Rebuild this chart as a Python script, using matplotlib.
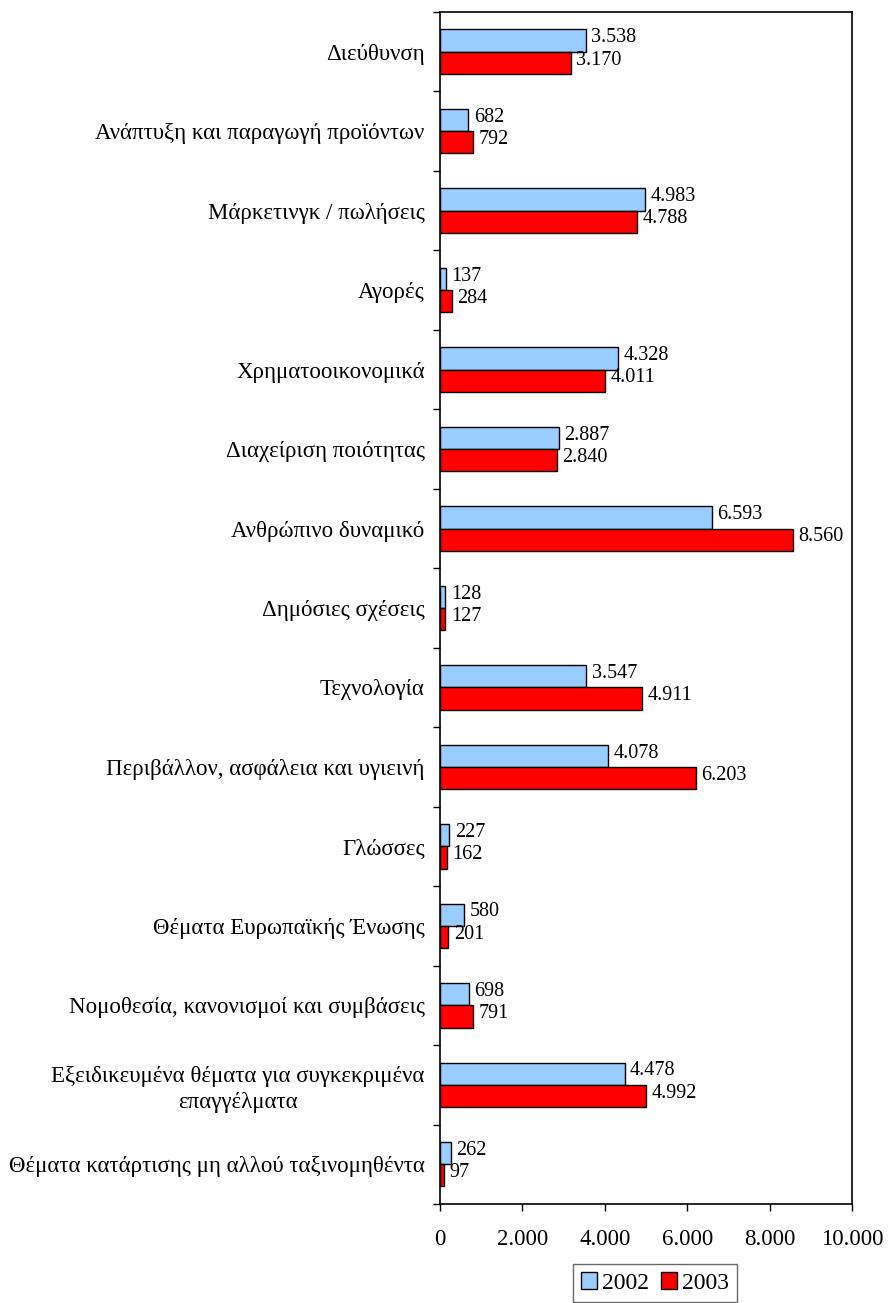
import matplotlib

matplotlib.use("Agg")
import matplotlib.pyplot as plt
from matplotlib.ticker import FuncFormatter, FixedLocator

plt.rcParams["font.family"] = ["Liberation Serif", "DejaVu Serif"]

categories = [
    "Διεύθυνση",
    "Ανάπτυξη και παραγωγή προϊόντων",
    "Μάρκετινγκ / πωλήσεις",
    "Αγορές",
    "Χρηματοοικονομικά",
    "Διαχείριση ποιότητας",
    "Ανθρώπινο δυναμικό",
    "Δημόσιες σχέσεις",
    "Τεχνολογία",
    "Περιβάλλον, ασφάλεια και υγιεινή",
    "Γλώσσες",
    "Θέματα Ευρωπαϊκής Ένωσης",
    "Νομοθεσία, κανονισμοί και συμβάσεις",
    "Εξειδικευμένα θέματα για συγκεκριμένα\nεπαγγέλματα",
    "Θέματα κατάρτισης μη αλλού ταξινομηθέντα",
]
values_2002 = [3538, 682, 4983, 137, 4328, 2887, 6593, 128, 3547, 4078, 227, 580, 698, 4478, 262]
values_2003 = [3170, 792, 4788, 284, 4011, 2840, 8560, 127, 4911, 6203, 162, 201, 791, 4992, 97]
series_names = ["2002", "2003"]
colors = ["#99CCFF", "#FF0000"]


def fmt(v):
    return f"{int(v):,}".replace(",", ".")


fig = plt.figure(figsize=(8.88, 13.03), dpi=100)
ax = fig.add_axes([0.4955, 0.076, 0.464, 0.9148])

pos = list(range(len(categories)))
bar_h = 0.28
offsets = [-0.14, 0.14]
for vals, off, col, name in zip([values_2002, values_2003], offsets, colors, series_names):
    ypos = [p + off for p in pos]
    ax.barh(ypos, vals, height=bar_h, color=col, edgecolor="black", linewidth=1.0, label=name)
    for y, v in zip(ypos, vals):
        ax.annotate(fmt(v), (v, y), xytext=(4, 2), textcoords="offset points",
                    ha="left", va="center", fontsize=14.5)

ax.set_xlim(0, 10000)
ax.set_ylim(len(categories) - 0.5, -0.5)
ax.set_xticks(range(0, 10001, 2000))
ax.xaxis.set_major_formatter(FuncFormatter(lambda v, p: fmt(v)))
ax.tick_params(axis="x", labelsize=16.5, length=5, width=1, pad=13, direction="out")

ax.set_yticks(pos)
ax.set_yticklabels(categories, fontsize=16.5, multialignment="center", linespacing=1.3)
ax.tick_params(axis="y", which="major", length=0, pad=11)
ax.yaxis.set_minor_locator(FixedLocator([p - 0.5 for p in pos] + [len(categories) - 0.5]))
ax.tick_params(axis="y", which="minor", length=5, width=1, direction="out")

for s in ax.spines.values():
    s.set_linewidth(1.2)
    s.set_color("black")

leg = fig.legend(loc="upper center", bbox_to_anchor=(0.7376, 0.0299), ncol=2, fontsize=17,
                 frameon=True, fancybox=False, edgecolor="#444444", handlelength=0.7,
                 handleheight=0.7, handletextpad=0.2, columnspacing=0.5, borderpad=0.35,
                 borderaxespad=0)
leg.get_frame().set_linewidth(1.0)

fig.savefig("out.png", dpi=100)
plt.close(fig)
